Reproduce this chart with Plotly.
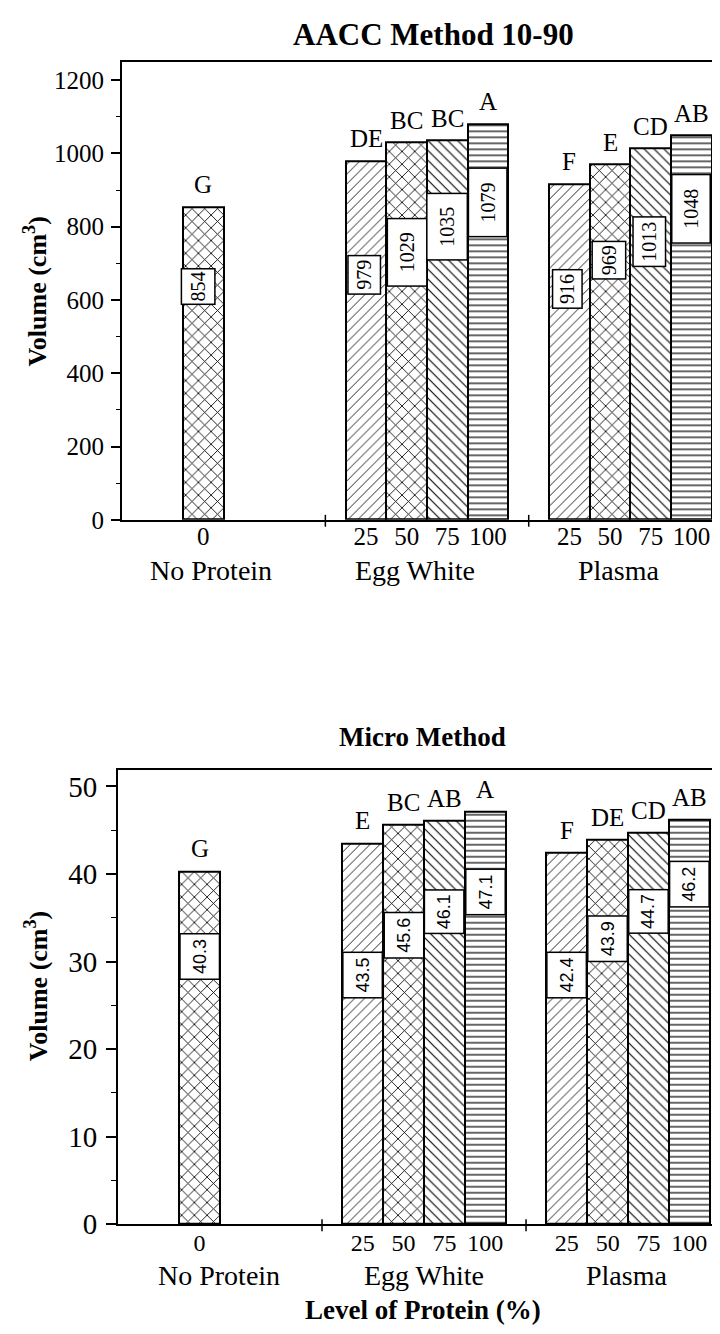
import plotly.graph_objects as go

# ---------------- data ----------------
levels = ["0", "25", "50", "75", "100", "25", "50", "75", "100"]
groups = ["No Protein", "Egg White", "Egg White", "Egg White", "Egg White",
          "Plasma", "Plasma", "Plasma", "Plasma"]
group_names = ["No Protein", "Egg White", "Plasma"]

aacc_volume = [854, 979, 1029, 1035, 1079, 916, 969, 1013, 1048]
aacc_letters = ["G", "DE", "BC", "BC", "A", "F", "E", "CD", "AB"]

micro_volume = [40.3, 43.5, 45.6, 46.1, 47.1, 42.4, 43.9, 44.7, 46.2]
micro_letters = ["G", "E", "BC", "AB", "A", "F", "DE", "CD", "AB"]

titles = ["AACC Method 10-90", "Micro Method"]
y_title = "Volume (cm<sup>3</sup>)"
x_title = "Level of Protein (%)"

# ---------------- layout / style constants ----------------
group_start = {"No Protein": 2, "Egg White": 6, "Plasma": 11}
separators = [5, 10]
pattern_for_level = {"0": "x", "25": "/", "50": "x", "75": "\\", "100": "-"}
pattern_size = {"0": 9, "25": 7, "50": 9, "75": 7, "100": 6}
pattern_solid = {"0": 0.18, "25": 0.12, "50": 0.18, "75": 0.16, "100": 0.2}

# label box placement (fraction of bar height for box centre) and box sizes (px)
aacc_box_frac = [0.745, 0.683, 0.710, 0.774, 0.803, 0.689, 0.730, 0.750, 0.811]
aacc_box_len = [36, 39, 68, 67, 69, 39, 38, 50, 69]
aacc_box_thick = [34, 33, 40, 41, 39, 30, 34, 33, 39]
aacc_box_dx = [-5, -2, 0, 0, 0, -2, -1, -1, 0]

micro_box_frac = [0.759, 0.655, 0.724, 0.774, 0.805, 0.672, 0.743, 0.799, 0.840]
micro_box_len = [46, 46, 46, 44, 46, 46, 46, 44, 46]
micro_box_thick = [40, 40, 40, 40, 40, 40, 40, 40, 40]

group_label_dx = {"x": [8, -12, -12], "x2": [19, 0, -2]}

SERIF = "Liberation Serif"
SANS = "Liberation Sans"
W, H = 720, 1334

# x positions computed from group structure
xpos = []
counter = {}
for g in groups:
    k = counter.get(g, 0)
    xpos.append(group_start[g] + k)
    counter[g] = k + 1
group_center = {g: (min(p for p, gg in zip(xpos, groups) if gg == g) +
                    max(p for p, gg in zip(xpos, groups) if gg == g)) / 2
                for g in group_names}

shapes_pat = [pattern_for_level[l] for l in levels]
sizes_pat = [pattern_size[l] for l in levels]
solid_pat = [pattern_solid[l] for l in levels]

fig = go.Figure()

panels = [
    dict(vals=aacc_volume, letters=aacc_letters, fmt="{:.0f}", xa="x", ya="y",
         frac=aacc_box_frac, blen=aacc_box_len, bthick=aacc_box_thick, bdx=aacc_box_dx,
         lblfont=dict(family=SERIF, size=20, color="black"), gy=-0.11, dom_px=463),
    dict(vals=micro_volume, letters=micro_letters, fmt="{:.1f}", xa="x2", ya="y2",
         frac=micro_box_frac, blen=micro_box_len, bthick=micro_box_thick, bdx=[0] * 9,
         lblfont=dict(family=SANS, size=18, color="black"), gy=-0.112, dom_px=460),
]

annotations = []
shapes = []

for p in panels:
    fig.add_trace(go.Bar(
        x=xpos, y=p["vals"], width=1.0, xaxis=p["xa"], yaxis=p["ya"],
        marker=dict(color="white",
                    line=dict(color="black", width=2),
                    pattern=dict(shape=shapes_pat, size=sizes_pat, solidity=solid_pat,
                                 fgcolor="black", bgcolor="white", fillmode="replace")),
        showlegend=False, hoverinfo="skip"))
    for i, (xv, v, let) in enumerate(zip(xpos, p["vals"], p["letters"])):
        # significance letters
        annotations.append(dict(x=xv, y=v, xref=p["xa"], yref=p["ya"], text=let,
                                showarrow=False, yanchor="bottom", yshift=7,
                                font=dict(family=SERIF, size=25, color="black")))
        # value labels in boxes
        annotations.append(dict(x=xv, y=v * p["frac"][i], xref=p["xa"], yref=p["ya"],
                                text=p["fmt"].format(v), showarrow=False, textangle=-90,
                                xshift=p["bdx"][i], yanchor="middle",
                                width=p["blen"][i] - 4, height=p["bthick"][i] - 4,
                                bgcolor="white", bordercolor="black", borderwidth=1.5,
                                borderpad=1, font=p["lblfont"]))
    # group labels
    for j, g in enumerate(group_names):
        annotations.append(dict(x=group_center[g], y=p["gy"], xref=p["xa"],
                                yref=p["ya"] + " domain", text=g, showarrow=False,
                                xshift=group_label_dx[p["xa"]][j],
                                yanchor="middle",
                                font=dict(family=SERIF, size=28, color="black")))
    # group separator ticks on x axis
    for s in separators:
        shapes.append(dict(type="line", xref=p["xa"], yref=p["ya"] + " domain",
                           x0=s, x1=s, y0=-7 / p["dom_px"], y1=5 / p["dom_px"],
                           line=dict(color="black", width=1.5)))

# titles and axis titles
annotations += [
    dict(x=425 / W, y=1 - 27 / H, xref="paper", yref="paper", text="<b>" + titles[0] + "</b>",
         showarrow=False, yanchor="middle", font=dict(family=SERIF, size=31, color="black")),
    dict(x=415 / W, y=1 - 738 / H, xref="paper", yref="paper", text="<b>" + titles[1] + "</b>",
         showarrow=False, yanchor="middle", font=dict(family=SERIF, size=27, color="black")),
    dict(x=28 / W, y=1 - 287 / H, xref="paper", yref="paper", text="<b>" + y_title + "</b>",
         showarrow=False, textangle=-90, yanchor="middle", xanchor="center",
         font=dict(family=SERIF, size=26, color="black")),
    dict(x=28 / W, y=1 - 990 / H, xref="paper", yref="paper", text="<b>" + y_title + "</b>",
         showarrow=False, textangle=-90, yanchor="middle", xanchor="center",
         font=dict(family=SERIF, size=26, color="black")),
    dict(x=415 / W, y=1 - 1318 / H, xref="paper", yref="paper", text="<b>" + x_title + "</b>",
         showarrow=False, yanchor="middle", font=dict(family=SERIF, size=27, color="black")),
]

xaxis_common = dict(
    tickmode="array", tickvals=xpos, ticktext=levels, ticks="",
    showline=True, linecolor="black", linewidth=2, mirror=True,
    showgrid=False, zeroline=False, fixedrange=True,
)

fig.update_layout(
    width=W, height=H,
    margin=dict(l=0, r=0, t=0, b=0),
    paper_bgcolor="white", plot_bgcolor="white",
    font=dict(family=SERIF, size=24, color="black"),
    bargap=0,
    xaxis=dict(domain=[114 / W, 1], range=[0, 14.9], anchor="y",
               ticklabelstandoff=-7,
               tickfont=dict(family=SERIF, size=25, color="black"), **xaxis_common),
    yaxis=dict(domain=[1 - 518 / H, 1 - 55 / H], range=[0, 1248.6], anchor="x",
               tickvals=[0, 200, 400, 600, 800, 1000, 1200],
               ticks="outside", ticklen=9, tickwidth=1.5, tickcolor="black",
               minor=dict(dtick=100, tick0=0, ticks="outside", ticklen=4,
                          tickwidth=1.2, tickcolor="black"),
               showline=True, linecolor="black", linewidth=2,
               showgrid=False, zeroline=False, fixedrange=True, ticklabelstandoff=2,
               tickfont=dict(family=SERIF, size=25, color="black")),
    xaxis2=dict(domain=[110 / W, 1], range=[0, 14.95], anchor="y2",
                ticklabelstandoff=-4,
                tickfont=dict(family=SERIF, size=24, color="black"), **xaxis_common),
    yaxis2=dict(domain=[1 - 1231 / H, 1 - 771 / H], range=[0, 51.9], anchor="x2",
                tickvals=[0, 10, 20, 30, 40, 50],
                ticks="outside", ticklen=10, tickwidth=1.5, tickcolor="black",
                minor=dict(dtick=5, tick0=0, ticks="outside", ticklen=5,
                           tickwidth=1.2, tickcolor="black"),
                showline=True, linecolor="black", linewidth=2,
                showgrid=False, zeroline=False, fixedrange=True, ticklabelstandoff=3,
                tickfont=dict(family=SERIF, size=29, color="black")),
    annotations=annotations,
    shapes=shapes,
)

fig.write_html("out.html")
